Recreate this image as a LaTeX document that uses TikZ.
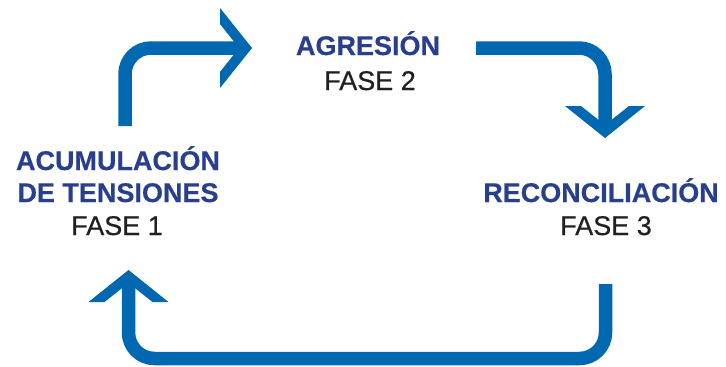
\documentclass[tikz,border=0pt]{standalone}
\usepackage{fontspec}
\setmainfont{Liberation Sans}
\newfontfamily\phasefont[FakeBold=0.6]{Liberation Sans}
\newfontfamily\titlefont[FakeBold=0.5]{Liberation Sans Bold}
\definecolor{arrowblue}{RGB}{0,103,177}
\definecolor{titleblue}{RGB}{40,62,142}
\definecolor{phaseblack}{RGB}{35,31,32}
\tikzset{
  flow/.style={draw=arrowblue, line width=13.5pt, rounded corners=26pt},
  title/.style={font=\fontsize{27}{32}\titlefont, text=titleblue, inner sep=0pt, anchor=base},
  phase/.style={font=\fontsize{27}{32}\phasefont, text=phaseblack, inner sep=0pt, anchor=base},
  chev/.pic={\fill[arrowblue] (0,0) -- (-32,-40) -- (-32,-24) -- (-13,0) -- (-32,24) -- (-32,40) -- cycle;}
}
\begin{document}
\begin{tikzpicture}[x=1pt,y=-1pt]
\useasboundingbox (0,0) rectangle (726,367);
% labels
\node[title] (t2) at (368,55) {AGRESIÓN};
\node[phase] (p2) at (370,90) {FASE 2};
\node[title] (t1a) at (118,170) {ACUMULACIÓN};
\node[title] (t1b) at (118,202) {DE TENSIONES};
\node[phase] (p1) at (117,235) {FASE 1};
\node[title] (t3) at (601,202) {RECONCILIACIÓN};
\node[phase] (p3) at (606,235) {FASE 3};
% connector coordinates
\coordinate (a1s) at (125,126);
\coordinate (a1e) at (241,48);
\coordinate (a1t) at (252,48);
\coordinate (a2s) at (476,48);
\coordinate (a2e) at (605,127);
\coordinate (a2t) at (605,138);
\coordinate (a3s) at (605.5,284);
\coordinate (a3c) at (128.5,358.5);
\coordinate (a3e) at (128.5,282);
\coordinate (a3t) at (128.5,270);
% arrows
\draw[flow] (a1s) |- (a1e);
\pic at (a1t) {chev};
\draw[flow] (a2s) -| (a2e);
\pic[rotate=-90] at (a2t) {chev};
\draw[flow] (a3s) |- (a3c) -- (a3e);
\pic[rotate=90] at (a3t) {chev};
\end{tikzpicture}
\end{document}
